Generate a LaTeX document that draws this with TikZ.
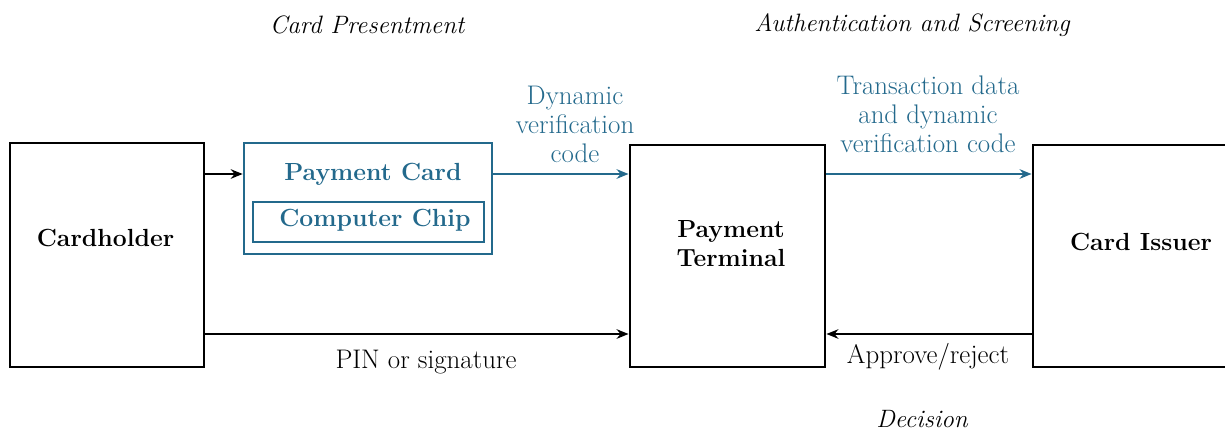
\documentclass[tikz,border=0pt]{standalone}
\usepackage{xcolor}
\definecolor{cardteal}{RGB}{35,105,140}
\usepackage{tikz}
\usetikzlibrary{arrows.meta}

\begin{document}
\begin{tikzpicture}[
  party/.style={draw, line width=0.055cm, inner sep=0pt},
  cardbox/.style={draw=cardteal, line width=0.05cm, inner sep=0pt},
  boldtext/.style={font=\fontsize{14.1}{16.5}\selectfont\bfseries},
  flowtext/.style={font=\fontsize{15.3}{16.5}\selectfont, align=center},
  phasetext/.style={font=\fontsize{14.3}{16.5}\selectfont\itshape},
  flow/.style={line width=0.05cm, -{Stealth[length=0.24cm,width=0.19cm]}}
]
\useasboundingbox (0,0) rectangle (24.5,8.68);

% Parties
\node[party, minimum width=3.88cm, minimum height=4.48cm] (holder) at (2.14,3.58) {};
\node[boldtext] (holderlbl) at (2.11,3.92) {Cardholder};
\node[party, minimum width=3.9cm, minimum height=4.44cm] (terminal) at (14.55,3.56) {};
\node[boldtext, align=center] (terminallbl) at (14.62,3.8) {Payment\\Terminal};
\node[party, minimum width=3.9cm, minimum height=4.44cm] (issuer) at (22.61,3.56) {};
\node[boldtext] (issuerlbl) at (22.82,3.84) {Card Issuer};

% Payment card with chip
\node[cardbox, minimum width=4.96cm, minimum height=2.22cm] (card) at (7.36,4.71) {};
\node[boldtext, text=cardteal] (cardlbl) at (7.46,5.2) {Payment Card};
\node[cardbox, minimum width=4.62cm, minimum height=0.8cm] (chip) at (7.37,4.24) {};
\node[boldtext, text=cardteal] (chiplbl) at (7.5,4.28) {Computer Chip};

% Phases
\node[phasetext] (presentment) at (7.34,8.18) {Card Presentment};
\node[phasetext] (screening) at (18.24,8.18) {Authentication and Screening};
\node[phasetext] (decision) at (18.44,0.3) {Decision};

% Flows
\coordinate (low) at (0,2.0);
\draw[flow] (holder.east |- cardlbl) -- (card.west |- cardlbl);
\draw[flow, draw=cardteal] (card.east |- cardlbl) -- (terminal.west |- cardlbl);
\draw[flow, draw=cardteal] (terminal.east |- cardlbl) -- (issuer.west |- cardlbl);
\draw[flow] (holder.east |- low) -- (terminal.west |- low);
\draw[flow] (issuer.west |- low) -- (terminal.east |- low);

% Flow labels
\node[flowtext, text=cardteal] (codelbl) at (11.5,6.2) {Dynamic\\verification\\code};
\node[flowtext, text=cardteal] (datalbl) at (18.56,6.4) {Transaction data\\and dynamic\\verification code};
\node[flowtext] (pinlbl) at (8.52,1.44) {PIN or signature};
\node[flowtext] (approvelbl) at (18.56,1.54) {Approve/reject};

\end{tikzpicture}
\end{document}
